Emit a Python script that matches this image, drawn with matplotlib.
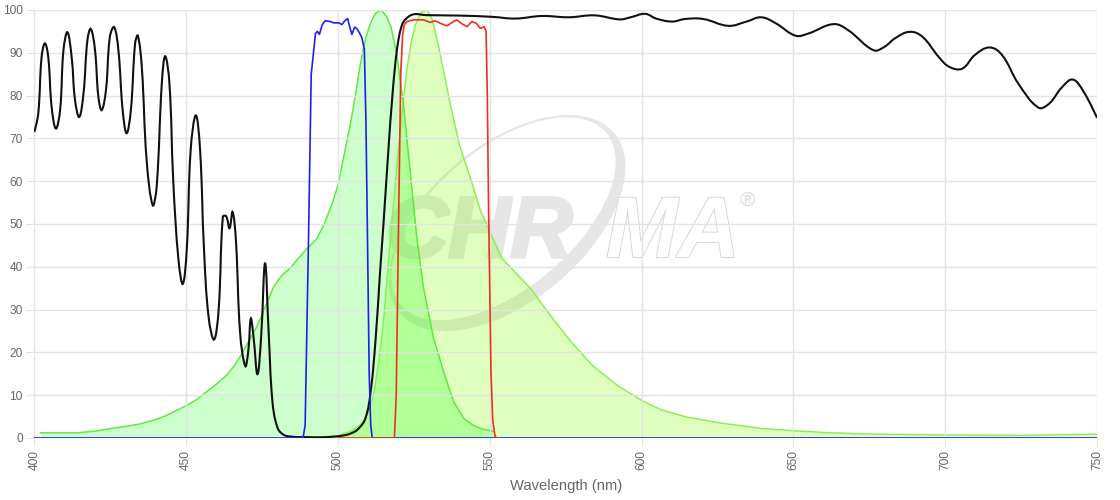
import numpy as np
import matplotlib
matplotlib.use("Agg")
import matplotlib.pyplot as plt
from matplotlib.path import Path
from matplotlib.patches import PathPatch
from matplotlib.transforms import Affine2D
import matplotlib.patheffects as pe

plt.rcParams['font.family'] = ['Liberation Sans', 'DejaVu Sans']

# --- spectra (wavelength nm, %T) ---
black_nm = [400, 401.3, 402.4, 403.5, 404.6, 405.7, 407.1, 408.5, 409.6, 410.9,
            412.3, 413.4, 414.8, 416.2, 417.5, 418.6, 420, 421.1, 422.2, 423.6,
            424.9, 426.3, 427.7, 429.1, 430.4, 431.8, 433.2, 434.1, 435.4, 437,
            439, 440.3, 442, 443.1, 444.5, 445.8, 447.5, 448.9, 450.2, 451.5,
            453.2, 454.6, 455.9, 457.4, 459.2, 460.7, 462.1, 463.2, 464.3, 465.3,
            466.4, 467.8, 469.5, 470.5, 471.3, 472.2, 473.5, 474.7, 476, 477.2,
            478.4, 480, 482, 485, 490, 496, 501, 504, 506.5, 509,
            510.8, 512.4, 513.8, 515, 516.5, 518, 519.5, 521, 522.5, 525,
            529, 539.8, 550.8, 558.4, 567.2, 576.1, 584.5, 592.8, 596.4, 601.2,
            604.8, 610.1, 614.3, 620.3, 628.6, 634.6, 639.4, 644.2, 650.7, 654.9,
            663.2, 668, 676.4, 680, 683.5, 688.3, 692.5, 697.9, 701.4, 705.6,
            709.8, 714.6, 718.7, 724.1, 730.7, 734.2, 738.4, 742, 745.6, 750]
black_t = [71.5, 75.8, 89, 92.2, 89, 77.4, 72.3, 76.6, 90.6, 94.8,
           89, 79, 75, 80.5, 93, 95.6, 90.6, 79.7, 76.6, 81.3,
           93.8, 96, 90.6, 76.6, 71.2, 76.6, 92.2, 94, 86.7, 64.9,
           54.4, 58.7, 82.9, 89.2, 82.9, 59.5, 41.5, 36, 43.9, 67.3,
           75.4, 67.3, 43.9, 28.3, 23, 29.9, 51.7, 51.8, 49, 52.8,
           46.2, 24.4, 16.8, 20.5, 27.9, 23.6, 14.9, 23.6, 40.8, 24.4,
           8.8, 2.6, 0.8, 0.3, 0.2, 0.2, 0.5, 1, 2, 4.5,
           11, 23, 38, 50, 66, 80.5, 91, 96.3, 98, 99,
           98.8, 98.7, 98.4, 98, 98.6, 98.3, 98.75, 97.8, 98.3, 99.1,
           98, 97.3, 97.9, 97.9, 96.3, 97.3, 98.3, 96.9, 94, 94.5,
           96.7, 95.3, 90.6, 91.4, 93.4, 94.9, 93.75, 89, 86.7, 86.3,
           89.5, 91.25, 89.5, 82.8, 77.2, 78.1, 81.9, 83.75, 80.9, 74.8]

blue_nm = [400, 488.5, 489.2, 490.3, 491.2, 491.8, 492.6, 493.2, 493.9, 494.8,
           495.8, 497.5, 498.6, 500.3, 501.3, 502.3, 503.2, 503.9, 504.6, 505.5,
           506.3, 507.2, 507.9, 508.7, 509.2, 509.6, 510.3, 510.8, 511.3, 750]
blue_t = [0, 0, 3, 46, 85, 89, 94.5, 95, 94.3, 96.5,
          97.5, 97.3, 97, 97, 96.6, 97.5, 98, 96, 94.3, 96,
          95.6, 94.5, 93.5, 90.8, 75, 54, 15, 3, 0, 0]

red_nm = [500, 518.6, 519.2, 519.9, 520.7, 521.3, 521.8, 522.7, 524.9, 528.2,
          530.4, 532, 533.7, 535.9, 537.6, 539.2, 540.8, 542.5, 544.1, 545.6,
          546.9, 548.2, 548.8, 549.2, 549.6, 550.4, 551, 551.8, 553]
red_t = [0, 0, 10, 46.7, 85.6, 94, 96.5, 97.3, 97.7, 97.7,
         97.1, 97.5, 96.9, 96.3, 97.1, 97.7, 96.8, 96.1, 97.3, 96.9,
         95.7, 96.1, 95, 80, 54.4, 15.5, 4, 0.2, 0]

ex_nm = [402, 414, 420, 425, 430, 435, 440, 443.6, 447, 450.2,
         453.5, 456.8, 460, 463.4, 466, 467.8, 470.5, 473.3, 476, 478.8,
         481.5, 484.3, 487, 489.5, 493, 495.5, 498, 500, 502, 504,
         505.5, 507.3, 509, 510.5, 512.3, 514.2, 516, 517.5, 519.4, 521.6,
         523.8, 526, 528.2, 531.5, 534.8, 538.1, 541.4, 544.7, 547.5, 551]
ex_t = [1.2, 1.2, 1.6, 2.2, 2.7, 3.3, 4.3, 5.3, 6.5, 7.6,
        9, 10.8, 12.6, 14.7, 17, 19, 22.5, 26, 30.5, 35.3,
        38, 39.7, 42, 44, 46.5, 50, 54.5, 59, 66, 73,
        79, 87, 93, 96.5, 99.2, 100, 98.5, 96, 89.5, 77.8,
        62.2, 46.7, 35, 23.3, 15.5, 8.5, 4.6, 2.9, 2.1, 1.6]

em_nm = [489, 495, 500, 504, 507, 509, 510.5, 512, 513.5, 515,
         516.5, 518, 519.5, 521, 522.5, 524, 525.5, 527.5, 529.3, 531,
         533, 535, 537, 540, 543.5, 547, 550.5, 554, 557.3, 560,
         564, 568, 573.5, 577, 584, 592.4, 600, 606.4, 614.8, 626,
         640, 650, 662.5, 676.5, 700, 725, 750]
em_t = [0, 0.2, 0.6, 1.5, 2.8, 4.5, 7, 11, 18, 27,
        40, 52, 64, 75, 85, 92, 96.5, 99.5, 100, 98,
        92, 85, 78, 68.5, 61, 53, 47.5, 42, 39.5, 37.5,
        34.5, 30.5, 25.4, 22.3, 16.8, 12.1, 8.8, 6.6, 4.9, 3.5,
        2.2, 1.7, 1.2, 0.9, 0.7, 0.6, 0.9]

x_ticks = [400, 450, 500, 550, 600, 650, 700, 750]
y_ticks = list(range(0, 101, 10))

W, H = 1120, 500
fig = plt.figure(figsize=(W / 100, H / 100), dpi=100)
ax = fig.add_axes([34.3 / W, 1 - 438 / H, (1097 - 34.3) / W, 428 / H])

grid_c = '#e3e3e3'
tick_c = '#666666'
wm_c = '#e6e6e6'


def spline_path(xs, ys, tension=0.4, sx=3.034, sy=4.28):
    """Bezier path through the points, same idea as a Chart.js line with tension."""
    p = np.column_stack([np.asarray(xs, float) * sx, np.asarray(ys, float) * sy])
    n = len(p)
    cp_prev = p.copy()
    cp_next = p.copy()
    for i in range(1, n - 1):
        d01 = np.hypot(*(p[i] - p[i - 1]))
        d12 = np.hypot(*(p[i + 1] - p[i]))
        s = d01 + d12
        fa = tension * d01 / s if s else 0
        fb = tension * d12 / s if s else 0
        v = p[i + 1] - p[i - 1]
        cp_prev[i] = p[i] - fa * v
        cp_next[i] = p[i] + fb * v
    verts = [p[0]]
    codes = [Path.MOVETO]
    for i in range(n - 1):
        verts += [cp_next[i], cp_prev[i + 1], p[i + 1]]
        codes += [Path.CURVE4] * 3
    verts = np.array(verts) / [sx, sy]
    verts[:, 1] = np.clip(verts[:, 1], 0, 100)
    return Path(verts, codes)


# watermark (pixel coords, y from top), under the fills
tr = Affine2D().scale(1, -1).translate(0, H)
cx, cy, th = 507, 223, np.deg2rad(40)
tt = np.linspace(0, 2 * np.pi, 200)


def ell(cx, cy, a, b):
    x = cx + a * np.cos(tt) * np.cos(th) - b * np.sin(tt) * np.sin(th)
    y = cy - (a * np.cos(tt) * np.sin(th) + b * np.sin(tt) * np.cos(th))
    return np.column_stack([x, y])


outer = ell(cx, cy, 140, 78)
inner = ell(cx - 3.5, cy - 4.2, 134, 70)[::-1]
verts = np.vstack([outer, inner])
codes = ([Path.MOVETO] + [Path.LINETO] * (len(outer) - 2) + [Path.CLOSEPOLY]) * 2
swoosh = PathPatch(Path(verts, codes), facecolor=wm_c, lw=0,
                   transform=tr, zorder=0.2)
swoosh.set_clip_on(False)
ax.add_patch(swoosh)

ax.text(386, 257, 'CHR', transform=tr, fontsize=62, fontweight='bold',
        fontstyle='italic', color=wm_c, ha='left', va='baseline',
        zorder=0.2, family='Liberation Sans',
        path_effects=[pe.Stroke(linewidth=2.5, foreground=wm_c), pe.Normal()])
ax.text(606, 257, 'MA', transform=tr, fontsize=62, fontweight='bold',
        fontstyle='italic', color='white', ha='left', va='baseline', zorder=0.25,
        family='Liberation Sans',
        path_effects=[pe.Stroke(linewidth=1.4, foreground='#d6d6d6'), pe.Normal()])
ax.text(747, 200, '®', transform=tr, fontsize=15, color='#dcdcdc',
        ha='center', va='center', zorder=0.2, family='Liberation Sans')

# fills
ax.fill_between(em_nm, em_t, 0, color=(0.5, 1.0, 0.0), alpha=0.25, lw=0, zorder=1)
ax.plot(em_nm, em_t, color='#8cee55', lw=1.1, zorder=2)
ax.fill_between(ex_nm, ex_t, 0, color=(0.0, 1.0, 0.0), alpha=0.2, lw=0, zorder=1)
ax.plot(ex_nm, ex_t, color='#5fe83f', lw=1.1, zorder=2)

# filter curves
ax.add_patch(PathPatch(spline_path(black_nm, black_t), facecolor='none',
                       edgecolor='#111111', lw=1.5, zorder=4))
ax.plot(blue_nm, blue_t, color='#1f1fee', lw=1.2, zorder=5)
ax.plot(red_nm, red_t, color='#f0301a', lw=1.2, zorder=6)

ax.set_xlim(400, 750)
ax.set_ylim(0, 100)
ax.set_xticks(x_ticks)
ax.set_yticks(y_ticks)
ax.set_xticklabels([str(v) for v in x_ticks], rotation=90)
ax.grid(True, color=grid_c, lw=1, zorder=0.5)
ax.set_axisbelow(False)
for gl in ax.get_xgridlines() + ax.get_ygridlines():
    gl.set_zorder(0.5)
ax.tick_params(axis='both', length=5.8, width=0.8, color=grid_c,
               labelcolor=tick_c, labelsize=8.6)
ax.tick_params(axis='y', pad=2.6)
ax.tick_params(axis='x', pad=2.9)
for s in ['top', 'right', 'bottom']:
    ax.spines[s].set_visible(False)
ax.spines['left'].set_color('#c8c8c8')
ax.spines['left'].set_linewidth(0.8)

ax.set_xlabel('Wavelength (nm)', fontsize=10.6, color=tick_c)
ax.xaxis.set_label_coords(0.5, -0.095)

fig.savefig('out.png', dpi=100)
